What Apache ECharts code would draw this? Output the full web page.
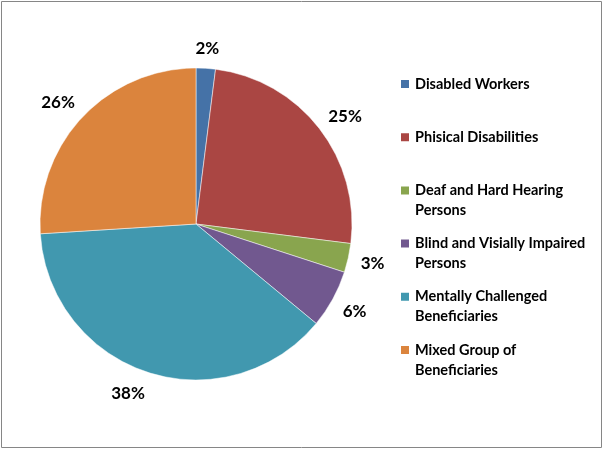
<!DOCTYPE html>
<html>
<head>
<meta charset="utf-8">
<script src="https://cdn.jsdelivr.net/npm/echarts@6/dist/echarts.min.js"></script>
<style>
html,body{margin:0;padding:0;background:#fff;}
#chart{width:603px;height:449px;}
</style>
</head>
<body>
<div id="chart"></div>
<script>
const categories = ["Disabled Workers", "Phisical Disabilities", "Deaf and Hard Hearing Persons", "Blind and Visially Impaired Persons", "Mentally Challenged Beneficiaries", "Mixed Group of Beneficiaries"];
const legendLabels = ["Disabled Workers", "Phisical Disabilities", "Deaf and Hard Hearing\nPersons", "Blind and Visially Impaired\nPersons", "Mentally Challenged\nBeneficiaries", "Mixed Group of\nBeneficiaries"];
const values = [2, 25, 3, 6, 38, 26];
const colors = ["#4572A7", "#AA4643", "#89A54E", "#71588F", "#4198AF", "#DB843D"];
const labelOffsets = [[0, 5], [6, 3], [0, 0], [0, 0], [-12, -3], [-6, 2]];

const data = categories.map((c, i) => ({ name: c, value: values[i], itemStyle: { color: colors[i] } }));
const labelData = categories.map((c, i) => ({ name: c, value: values[i], label: { offset: labelOffsets[i] } }));

const chart = echarts.init(document.getElementById('chart'), null, { renderer: 'canvas' });
chart.setOption({
  animation: false,
  backgroundColor: '#fff',
  graphic: [{
    type: 'rect',
    shape: { x: 1.5, y: 1.5, width: 600, height: 446 },
    style: { fill: 'none', stroke: '#868686', lineWidth: 1 },
    silent: true
  }],
  legend: {
    orient: 'vertical',
    left: 399,
    top: 54,
    padding: 0,
    itemGap: -6.8,
    itemWidth: 10,
    itemHeight: 10,
    icon: 'rect',
    selectedMode: false,
    data: categories,
    formatter: function (name) {
      const l = legendLabels[categories.indexOf(name)];
      return '\u00a0\n' + (l.indexOf('\n') >= 0 ? l : l + '\n\u00a0');
    },
    textStyle: {
      fontFamily: 'Lato',
      fontWeight: 'bold',
      fontSize: 14.5,
      lineHeight: 20,
      color: '#000'
    }
  },
  series: [{
    type: 'pie',
    center: [196, 224],
    radius: [0, 156],
    startAngle: 90,
    clockwise: true,
    label: { show: false },
    labelLine: { show: false },
    itemStyle: { borderColor: '#ffffff', borderWidth: 0.5 },
    emphasis: { disabled: true },
    data: data
  }, {
    type: 'pie',
    center: [196, 224],
    radius: [170, 186],
    startAngle: 90,
    clockwise: true,
    silent: true,
    itemStyle: { color: 'rgba(0,0,0,0)' },
    label: {
      show: true,
      position: 'inside',
      formatter: p => Math.round(p.percent) + '%',
      fontFamily: 'Lato',
      fontWeight: 'bold',
      fontSize: 17,
      color: '#000'
    },
    labelLine: { show: false },
    emphasis: { disabled: true },
    data: labelData
  }]
});
</script>
</body>
</html>
